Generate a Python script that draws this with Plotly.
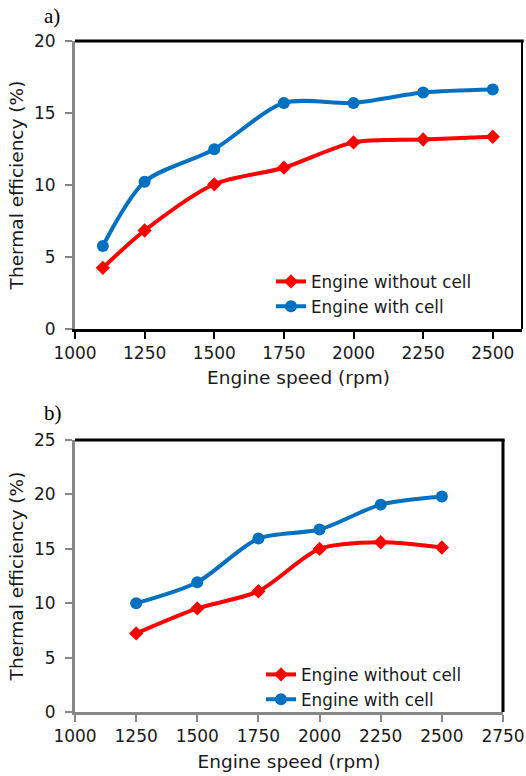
import plotly.graph_objects as go

# ---- data ----
speed_a = [1100, 1250, 1500, 1750, 2000, 2250, 2500]
without_a = [4.25, 6.84, 10.05, 11.2, 12.96, 13.16, 13.35]
with_a = [5.77, 10.23, 12.49, 15.7, 15.7, 16.42, 16.63]

speed_b = [1250, 1500, 1750, 2000, 2250, 2500]
without_b = [7.22, 9.52, 11.1, 14.99, 15.6, 15.12]
with_b = [10.0, 11.93, 15.94, 16.77, 19.06, 19.8]

x_ticks_a = [1000, 1250, 1500, 1750, 2000, 2250, 2500]
x_ticks_b = [1000, 1250, 1500, 1750, 2000, 2250, 2500, 2750]

name_without = "Engine without cell"
name_with = "Engine with cell"
x_title = "Engine speed (rpm)"
y_title = "Thermal efficiency (%)"

RED = "#FF0000"
BLUE = "#0070C0"
GREY = "#878787"
FONT = "DejaVu Sans"
W, H = 526, 776

fig = go.Figure()

def add_series(x, y, name, color, symbol, size, xa, ya, legend):
    fig.add_trace(go.Scatter(
        x=x, y=y, name=name, mode="lines+markers",
        line=dict(color=color, width=4, shape="spline", smoothing=0.8),
        marker=dict(color=color, symbol=symbol, size=size),
        xaxis=xa, yaxis=ya, legend=legend))

add_series(speed_a, without_a, name_without, RED, "diamond", 11, "x", "y", "legend")
add_series(speed_a, with_a, name_with, BLUE, "circle", 12, "x", "y", "legend")
add_series(speed_b, without_b, name_without, RED, "diamond", 11, "x2", "y2", "legend2")
add_series(speed_b, with_b, name_with, BLUE, "circle", 12, "x2", "y2", "legend2")

tickfont = dict(family=FONT, size=17, color="#1a1a1a")
titlefont = dict(family=FONT, size=18.5, color="#1a1a1a")
legfont = dict(family=FONT, size=16.8, color="#1a1a1a")

def px_x(p):
    return p / W

def px_y(p):
    return 1 - p / H

common = dict(showgrid=False, zeroline=False, tickfont=tickfont, automargin=False,
              ticks="outside", tickwidth=2, ticklen=7, showline=True, linewidth=3)

fig.update_layout(
    width=W, height=H,
    margin=dict(l=0, r=0, t=0, b=0),
    paper_bgcolor="white", plot_bgcolor="white",
    xaxis=dict(domain=[px_x(75), px_x(522)], range=[1000, 2605],
               tickvals=x_ticks_a, linecolor="black", tickcolor="black",
               title=dict(text=x_title, font=titlefont, standoff=9),
               anchor="y", **common),
    yaxis=dict(domain=[px_y(329), px_y(41)], range=[0, 20], dtick=5,
               linecolor=GREY, tickcolor=GREY, ticklabelstandoff=6,
               title=dict(text=y_title, font=titlefont, standoff=6),
               anchor="x", **common),
    xaxis2=dict(domain=[px_x(75), px_x(503)], range=[1000, 2750],
                tickvals=x_ticks_b, linecolor=GREY, tickcolor=GREY,
                title=dict(text=x_title, font=titlefont, standoff=10),
                anchor="y2", **common),
    yaxis2=dict(domain=[px_y(712), px_y(440)], range=[0, 25], dtick=5,
                linecolor=GREY, tickcolor=GREY, ticklabelstandoff=6,
                title=dict(text=y_title, font=titlefont, standoff=6),
                anchor="x2", **common),
    legend=dict(x=px_x(271), y=px_y(264), xanchor="left", yanchor="top",
                font=legfont, bgcolor="rgba(0,0,0,0)", tracegroupgap=0, itemwidth=30),
    legend2=dict(x=px_x(261), y=px_y(657), xanchor="left", yanchor="top",
                 font=legfont, bgcolor="rgba(0,0,0,0)", tracegroupgap=0, itemwidth=30),
    annotations=[
        dict(text="a)", x=px_x(42), y=px_y(16), xref="paper", yref="paper",
             xanchor="left", yanchor="middle", showarrow=False,
             font=dict(family="Liberation Serif", size=21, color="black")),
        dict(text="b)", x=px_x(42), y=px_y(413), xref="paper", yref="paper",
             xanchor="left", yanchor="middle", showarrow=False,
             font=dict(family="Liberation Serif", size=21, color="black")),
    ],
    shapes=[
        dict(type="line", xref="x domain", yref="y domain", x0=0, x1=1.004, y0=1, y1=1,
             line=dict(color="black", width=3)),
        dict(type="line", xref="x domain", yref="y domain", x0=1, x1=1, y0=0, y1=1,
             line=dict(color="black", width=2)),
        dict(type="line", xref="x2 domain", yref="y2 domain", x0=0, x1=1.004, y0=1, y1=1,
             line=dict(color="black", width=3)),
        dict(type="line", xref="x2 domain", yref="y2 domain", x0=1, x1=1, y0=0, y1=1,
             line=dict(color="black", width=3)),
    ],
)

fig.write_html("out.html")
